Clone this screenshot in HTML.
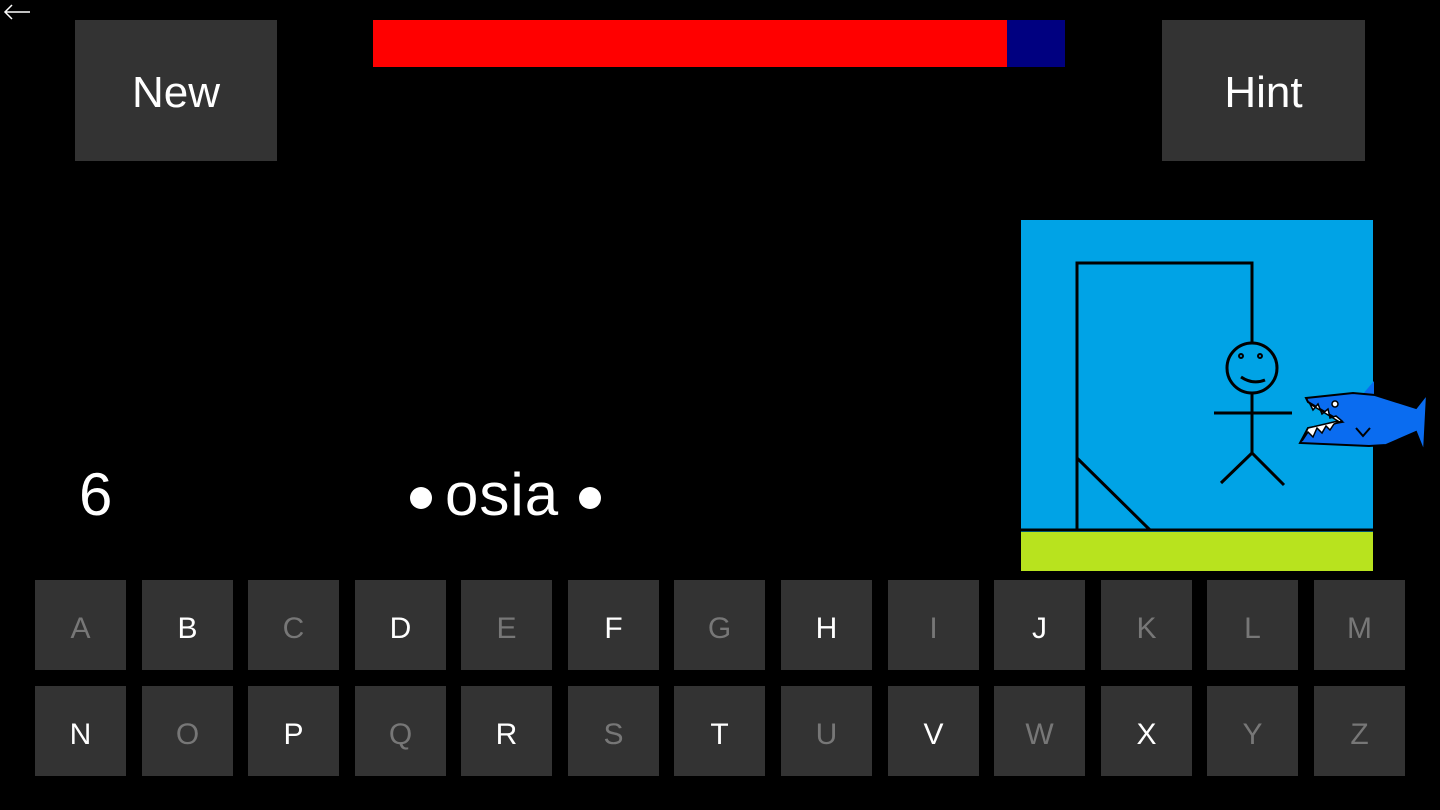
<!DOCTYPE html>
<html><head><style>
body{margin:0;width:1440px;height:810px;background:#000;position:relative;overflow:hidden;font-family:"Liberation Sans",sans-serif;color:#fff}
.a{position:absolute}
.btn{background:#333;display:flex;align-items:center;justify-content:center;font-size:44px;padding-top:4px;box-sizing:border-box}
.k{position:absolute;width:91px;height:90px;background:#333;display:flex;align-items:center;justify-content:center;font-size:30px;color:#fff;padding-top:7px;box-sizing:border-box}
.g{color:#777}
</style></head><body>
<svg class="a" style="left:0;top:0" width="40" height="30"><g stroke="#fff" stroke-width="1.5" fill="none"><line x1="5" y1="12" x2="30" y2="12"/><polyline points="12,5 5,12 12,19"/></g></svg>
<div class="a btn" style="left:75px;top:20px;width:202px;height:141px">New</div>
<div class="a btn" style="left:1162px;top:20px;width:203px;height:141px">Hint</div>
<div class="a" style="left:373px;top:20px;width:634px;height:47px;background:#f00"></div>
<div class="a" style="left:1007px;top:20px;width:58px;height:47px;background:#000080"></div>
<div class="a" style="left:79px;top:460px;font-size:60px;line-height:70px">6</div>
<div class="a" style="left:410px;top:487px;width:22px;height:22px;border-radius:50%;background:#fff"></div>
<div class="a" style="left:579px;top:487px;width:22px;height:22px;border-radius:50%;background:#fff"></div>
<div class="a" style="left:445px;top:460px;font-size:60px;line-height:70px;letter-spacing:1px">osia</div>
<div class="a" style="left:1021px;top:220px;width:352px;height:351px;background:#00a3e6"></div>
<div class="a" style="left:1021px;top:532px;width:352px;height:39px;background:#b8e31e"></div>
<svg class="a" style="left:0;top:0" width="1440" height="810">
<g stroke="#000" stroke-width="3" fill="none">
<line x1="1021" y1="530" x2="1373" y2="530"/>
<polyline points="1077,530 1077,263 1252,263 1252,343"/>
<line x1="1077" y1="458" x2="1150" y2="530"/>
<circle cx="1252" cy="368" r="25"/>
<circle cx="1241" cy="356" r="2" stroke-width="2"/><circle cx="1260" cy="356" r="2" stroke-width="2"/>
<path d="M1241 377 Q1253 385 1265 380"/>
<line x1="1252" y1="393" x2="1252" y2="453"/>
<line x1="1214" y1="413" x2="1292" y2="413"/>
<polyline points="1221,483 1252,453 1284,485"/>
</g>
<polygon points="1362,395 1374,381 1374,395" fill="#0a6cf0"/>
<polygon points="1306,398 1353,393 1375,395 1416,408 1427,394 1424,452 1416,432 1386,445 1369,446 1300,443 1308,428 1342,422 1308,402" fill="#0a6cf0" stroke="#000" stroke-width="2"/>
<polygon points="1309,402 1313,410 1318,404 1322,414 1328,409 1330,418 1336,416 1342,421 1334,424 1330,430 1326,426 1322,433 1317,428 1313,437 1308,432 1302,441 1308,428 1338,421 1310,404" fill="#fff" stroke="#000" stroke-width="1.5"/>
<circle cx="1335" cy="404" r="3" fill="#fff" stroke="#000" stroke-width="1.5"/>
<polyline points="1356,428 1363,436 1370,428" fill="none" stroke="#000" stroke-width="2"/>
</svg>
<div class="k g" style="left:35px;top:580px">A</div>
<div class="k" style="left:142px;top:580px">B</div>
<div class="k g" style="left:248px;top:580px">C</div>
<div class="k" style="left:355px;top:580px">D</div>
<div class="k g" style="left:461px;top:580px">E</div>
<div class="k" style="left:568px;top:580px">F</div>
<div class="k g" style="left:674px;top:580px">G</div>
<div class="k" style="left:781px;top:580px">H</div>
<div class="k g" style="left:888px;top:580px">I</div>
<div class="k" style="left:994px;top:580px">J</div>
<div class="k g" style="left:1101px;top:580px">K</div>
<div class="k g" style="left:1207px;top:580px">L</div>
<div class="k g" style="left:1314px;top:580px">M</div>
<div class="k" style="left:35px;top:686px">N</div>
<div class="k g" style="left:142px;top:686px">O</div>
<div class="k" style="left:248px;top:686px">P</div>
<div class="k g" style="left:355px;top:686px">Q</div>
<div class="k" style="left:461px;top:686px">R</div>
<div class="k g" style="left:568px;top:686px">S</div>
<div class="k" style="left:674px;top:686px">T</div>
<div class="k g" style="left:781px;top:686px">U</div>
<div class="k" style="left:888px;top:686px">V</div>
<div class="k g" style="left:994px;top:686px">W</div>
<div class="k" style="left:1101px;top:686px">X</div>
<div class="k g" style="left:1207px;top:686px">Y</div>
<div class="k g" style="left:1314px;top:686px">Z</div>
</body></html>
